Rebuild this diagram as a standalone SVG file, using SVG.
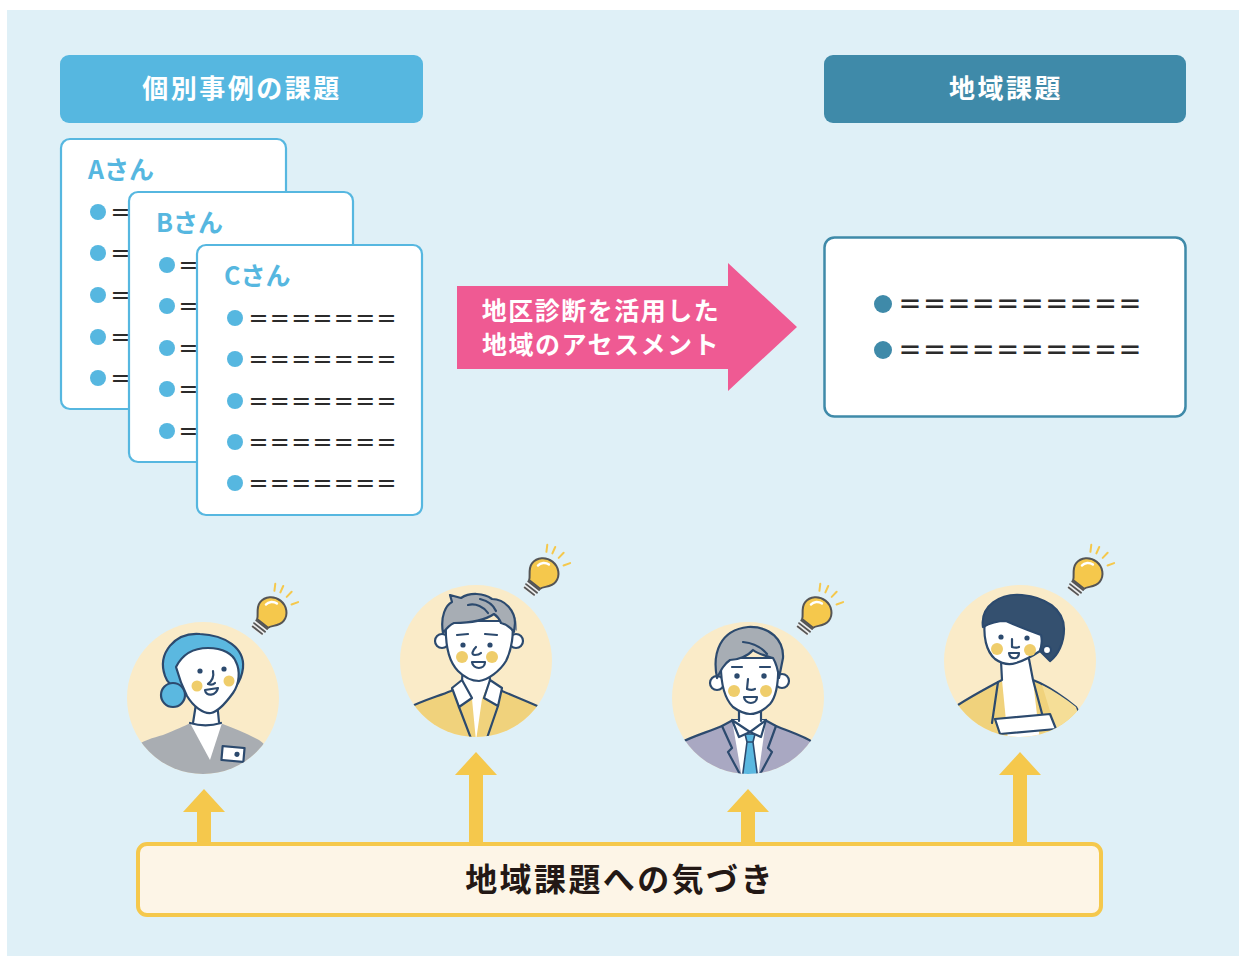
<svg xmlns="http://www.w3.org/2000/svg" xmlns:xlink="http://www.w3.org/1999/xlink" width="1239" height="956" viewBox="0 0 1239 956">
  <style>
    .jp { font-family: "Noto Sans CJK JP", "Noto Sans", sans-serif; font-weight: 700; }
    .head-txt { fill: #ffffff; font-size: 26px; letter-spacing: 2.5px; }
    .card { fill: #ffffff; stroke: #56b7e0; stroke-width: 2.2; }
    .card-title { fill: #56b7e0; font-size: 25px; }
    .dot { fill: #56b7e0; }
    .dot-dark { fill: #3f8aa9; }
    .eq { fill: #2b2b2b; font-family: "Noto Sans CJK JP", sans-serif; font-weight: 700; }
    .disc { fill: #faebc8; }
    .ol { stroke: #2c4a6e; stroke-width: 2.2; stroke-linejoin: round; stroke-linecap: round; }
    .ln { fill: none; stroke: #2c4a6e; stroke-width: 2.2; stroke-linejoin: round; stroke-linecap: round; }
    .skin { fill: #ffffff; }
    .cheek { fill: #efcd6b; }
    .eye { fill: #2c4a6e; }
    .up { fill: #f5c84c; }
  </style>
  <defs>
    <clipPath id="disc-clip">
      <circle cx="0" cy="0" r="76"/>
    </clipPath>
    <!-- light bulb drawn upright; glass centred near (0,-3) -->
    <g id="bulb">
      <g stroke="#f5c84c" stroke-width="2" stroke-linecap="round">
        <line x1="-10.8" y1="-21" x2="-14.4" y2="-27"/>
        <line x1="-5.1" y1="-23.4" x2="-6.8" y2="-30.2"/>
        <line x1="2.6" y1="-23.8" x2="3.4" y2="-30.8"/>
        <line x1="11.1" y1="-20.8" x2="14.8" y2="-26.7"/>
      </g>
      <rect x="-7" y="11" width="14" height="11" fill="#ececec"/>
      <g stroke="#555555" stroke-width="1.8" stroke-linecap="round">
        <line x1="-7" y1="13.5" x2="7" y2="13.5"/>
        <line x1="-7" y1="17" x2="7" y2="17"/>
        <line x1="-6" y1="20.5" x2="6" y2="20.5"/>
      </g>
      <path d="M -7,12 C -8,8 -15,4 -15,-3 C -15,-11 -8,-17 0,-17 C 8,-17 15,-11 15,-3 C 15,4 8,8 7,12 Z" fill="#f5c84c" stroke="#555555" stroke-width="2"/>
      <path d="M -9,-5 C -9,-9 -5,-12.5 -1,-12.5" fill="none" stroke="#ffffff" stroke-width="2.5" stroke-linecap="round"/>
    </g>
  </defs>

  <!-- backdrop -->
  <rect x="7" y="10" width="1232" height="946" fill="#dff0f7"/>

  <!-- heading: individual cases -->
  <g id="head-cases">
    <rect x="60" y="55" width="363" height="68" rx="9" fill="#56b7e0"/>
    <text class="jp head-txt" x="242" y="98" text-anchor="middle">個別事例の課題</text>
  </g>

  <!-- heading: area issues -->
  <g id="head-area">
    <rect x="824" y="55" width="362" height="68" rx="9" fill="#3f8aa9"/>
    <text class="jp head-txt" x="1006" y="98" text-anchor="middle">地域課題</text>
  </g>

  <!-- card A (lines run on under card B) -->
  <g id="card-a">
    <rect class="card" x="61" y="139" width="225" height="270" rx="9"/>
    <text class="jp card-title" x="88" y="179">Aさん</text>
    <circle class="dot" cx="98" cy="212" r="8"/>
    <circle class="dot" cx="98" cy="253" r="8"/>
    <circle class="dot" cx="98" cy="295" r="8"/>
    <circle class="dot" cx="98" cy="337" r="8"/>
    <circle class="dot" cx="98" cy="378" r="8"/>
    <g class="eq" font-size="21">
      <text x="110" y="220">＝</text>
      <text x="110" y="261">＝</text>
      <text x="110" y="303">＝</text>
      <text x="110" y="345">＝</text>
      <text x="110" y="386">＝</text>
    </g>
  </g>

  <!-- card B (lines run on under card C) -->
  <g id="card-b">
    <rect class="card" x="129" y="192" width="224" height="270" rx="9"/>
    <text class="jp card-title" x="156" y="232">Bさん</text>
    <circle class="dot" cx="167" cy="265" r="8"/>
    <circle class="dot" cx="167" cy="306" r="8"/>
    <circle class="dot" cx="167" cy="348" r="8"/>
    <circle class="dot" cx="167" cy="389" r="8"/>
    <circle class="dot" cx="167" cy="431" r="8"/>
    <g class="eq" font-size="21">
      <text x="178" y="273">＝</text>
      <text x="178" y="314">＝</text>
      <text x="178" y="356">＝</text>
      <text x="178" y="397">＝</text>
      <text x="178" y="439">＝</text>
    </g>
  </g>

  <!-- card C -->
  <g id="card-c">
    <rect class="card" x="197" y="245" width="225" height="270" rx="9"/>
    <text class="jp card-title" x="224" y="285">Cさん</text>
    <circle class="dot" cx="235" cy="318" r="8"/>
    <circle class="dot" cx="235" cy="359" r="8"/>
    <circle class="dot" cx="235" cy="401" r="8"/>
    <circle class="dot" cx="235" cy="442" r="8"/>
    <circle class="dot" cx="235" cy="483" r="8"/>
    <g class="eq" font-size="21">
      <text x="248" y="326" textLength="149">＝＝＝＝＝＝＝</text>
      <text x="248" y="367" textLength="149">＝＝＝＝＝＝＝</text>
      <text x="248" y="409" textLength="149">＝＝＝＝＝＝＝</text>
      <text x="248" y="450" textLength="149">＝＝＝＝＝＝＝</text>
      <text x="248" y="491" textLength="149">＝＝＝＝＝＝＝</text>
    </g>
  </g>

  <!-- big pink arrow with caption -->
  <g id="assessment">
    <polygon points="457,286 728,286 728,263 797,327 728,391 728,369 457,369" fill="#ef5a93"/>
    <text class="jp" x="601" y="320" font-size="25" fill="#ffffff" text-anchor="middle" letter-spacing="1.5">地区診断を活用した</text>
    <text class="jp" x="601" y="354" font-size="25" fill="#ffffff" text-anchor="middle" letter-spacing="1.5">地域のアセスメント</text>
  </g>

  <!-- summary box -->
  <g id="area-box">
    <rect x="824.5" y="237.5" width="361" height="179" rx="10" fill="#ffffff" stroke="#3f8aa9" stroke-width="2.5"/>
    <circle class="dot-dark" cx="883" cy="304" r="9"/>
    <circle class="dot-dark" cx="883" cy="350" r="9"/>
    <g class="eq" font-size="24">
      <text x="898" y="313" textLength="244">＝＝＝＝＝＝＝＝＝＝</text>
      <text x="898" y="359" textLength="244">＝＝＝＝＝＝＝＝＝＝</text>
    </g>
  </g>

  <!-- person 1: woman, blue hair -->
  <g id="person-1" transform="translate(203,698)">
    <circle class="disc" r="76"/>
    <g clip-path="url(#disc-clip)">
      <path d="M -80,90 L -70,50 C -60,42 -50,40 -40,37 C -28,32 -18,28 -13,25 L 17,25 C 30,30 45,36 56,42 C 65,48 72,60 80,90 Z" fill="#a9adb2"/>
      <path d="M -13,25 L 7,62 L 19,25 Z" fill="#ffffff"/>
      <path d="M -7,4 L -10,26 C -3,28 10,28 17,25 L 14,4 Z" class="skin"/>
      <path class="ln" d="M -7,6 L -10,25 M 14,4 L 16,24 M -13,25 C -3,28 8,28 18,25"/>
      <g transform="rotate(5 30 56)">
        <rect x="19" y="49" width="22" height="14" fill="#ffffff" class="ol"/>
        <circle cx="34" cy="56" r="2.6" class="eye"/>
      </g>
      <path class="ol" fill="#5bb8e0" d="M -38,-22 C -46,-45 -28,-66 -3,-64 C 22,-63 42,-50 40,-30 C 39,-22 36,-16 33,-12 L 25,-25 L -25,-10 C -32,-12 -36,-16 -38,-22 Z"/>
      <circle class="ol" fill="#5bb8e0" cx="-30" cy="-3" r="12"/>
      <path class="ol skin" d="M -27,-31 C -20,-45 -8,-50 5,-50 C 20,-50 30,-44 33,-36 C 37,-28 37,-15 30,-5 C 22,6 14,14 8,15 C 0,16 -10,8 -16,-2 C -20,-10 -24,-20 -27,-31 Z"/>
      <circle class="cheek" cx="-6" cy="-12" r="5.5"/>
      <circle class="cheek" cx="26" cy="-17" r="5.5"/>
      <circle class="eye" cx="-3" cy="-27" r="2.6"/>
      <circle class="eye" cx="21" cy="-29" r="2.6"/>
      <path class="ln" d="M 10,-27 C 11,-22 9,-17 5,-14 C 8,-13 11,-14 12,-15"/>
      <path class="ol" fill="#ffffff" d="M 2,-8 C 3,-1 13,-2 15,-10 Z"/>
    </g>
  </g>

  <!-- person 2: man, grey hair, yellow jacket -->
  <g id="person-2" transform="translate(476,661)">
    <circle class="disc" r="76"/>
    <g clip-path="url(#disc-clip)">
      <path class="ol" fill="#f0d27c" d="M -80,90 L -70,48 C -55,40 -40,36 -25,30 L -14,20 L 14,20 L 26,30 C 40,36 55,42 68,48 L 80,90 Z"/>
      <path fill="#ffffff" d="M -14,18 L -4,38 L 0,80 L 6,38 L 14,18 Z"/>
      <path class="ln" d="M -17,46 L -4,80 M 22,45 L 10,80"/>
      <path class="skin" d="M -13,2 L -14,20 L 14,20 L 13,2 Z"/>
      <path class="ln" d="M -13,4 L -14,20 M 13,4 L 14,20"/>
      <path class="ol" fill="#ffffff" d="M -14,19 L -24,27 L -17,46 L -4,37 Z"/>
      <path class="ol" fill="#ffffff" d="M 14,19 L 26,27 L 22,45 L 8,37 Z"/>
      <circle class="ol skin" cx="-34" cy="-20" r="7"/>
      <circle class="ol skin" cx="40" cy="-20" r="7"/>
      <path class="ol skin" d="M -30,-40 C -31,-20 -28,0 -18,10 C -10,18 -3,20 3,20 C 12,19 24,10 30,0 C 36,-12 38,-28 36,-40 Z"/>
      <path fill="#8d949c" d="M 18,-60 C 32,-58 42,-48 41,-30 L 36,-34 C 34,-44 28,-52 18,-60 Z"/>
      <path class="ol" fill="#a7adb4" d="M -33,-28 C -36,-45 -30,-56 -24,-59 L -26,-66 L -15,-63 C -6,-69 8,-68 16,-62 C 29,-62 39,-50 39,-38 L 38,-29 C 34,-34 30,-37 25,-38 C 23,-43 21,-45 18,-47 C 8,-40 -10,-38 -22,-38 C -27,-36 -30,-32 -33,-28 Z"/>
      <path class="ln" d="M -8,-56 C 0,-58 8,-54 12,-48 M 4,-62 C 12,-60 18,-55 20,-50"/>
      <path class="ln" d="M -19,-26 L -8,-27 M 9,-27 L 21,-26"/>
      <circle class="cheek" cx="-14" cy="-4" r="6"/>
      <circle class="cheek" cx="16" cy="-4" r="6"/>
      <circle class="eye" cx="-13" cy="-16" r="2.6"/>
      <circle class="eye" cx="14" cy="-16" r="2.6"/>
      <path class="ln" d="M 0,-14 C -4,-10 -5,-6 -1,-6 C 2,-6 4,-7 5,-8"/>
      <path class="ol" fill="#ffffff" d="M -4,1 C -3,9 9,9 9,1 Z"/>
    </g>
  </g>

  <!-- person 3: man in suit, blue tie -->
  <g id="person-3" transform="translate(748,698)">
    <circle class="disc" r="76"/>
    <g clip-path="url(#disc-clip)">
      <path class="ol" fill="#a9a8c2" d="M -80,90 L -68,45 C -55,38 -40,34 -26,28 L -15,22 L 17,22 L 28,28 C 42,34 56,38 66,45 L 80,90 Z"/>
      <path fill="#ffffff" d="M -16,22 L -6,80 L 10,80 L 18,22 Z"/>
      <path class="ln" d="M -26,28 L -16,50 L -20,54 L -6,80 M 28,28 L 20,50 L 24,54 L 10,80"/>
      <path class="skin" d="M -9,4 L -9,24 L 13,24 L 13,4 Z"/>
      <path class="ln" d="M -9,6 L -9,23 M 13,6 L 13,23"/>
      <path fill="#5bb8e0" stroke="#2c4a6e" stroke-width="1.6" stroke-linejoin="round" d="M -3,36 L 7,36 L 5,44 L -1,44 Z M -1,44 L 5,44 L 10,82 L -6,82 Z"/>
      <path class="ol" fill="#ffffff" d="M -16,22 L -9,39 L 2,34 Z"/>
      <path class="ol" fill="#ffffff" d="M 18,22 L 13,39 L 2,34 Z"/>
      <circle class="ol skin" cx="-31" cy="-15" r="7"/>
      <circle class="ol skin" cx="34" cy="-17" r="7"/>
      <path class="ol skin" d="M -27,-40 C -28,-15 -24,0 -15,9 C -8,14 -3,16 2,16 C 8,16 15,13 22,6 C 29,-2 31,-20 30,-40 Z"/>
      <path class="ol" fill="#a7adb4" d="M -31,-20 C -36,-45 -28,-68 0,-71 C 22,-72 36,-58 35,-40 L 31,-20 C 30,-28 28,-35 25,-40 C 18,-42 10,-44 5,-48 C 0,-42 -10,-38 -18,-38 C -24,-34 -27,-28 -31,-20 Z"/>
      <path class="ln" d="M -5,-56 C 5,-55 14,-50 19,-44"/>
      <path class="ln" d="M -16,-31 L -6,-31 M 12,-31 L 22,-31"/>
      <circle class="cheek" cx="-14" cy="-7" r="6"/>
      <circle class="cheek" cx="18" cy="-7" r="6"/>
      <circle class="eye" cx="-11" cy="-22" r="2.7"/>
      <circle class="eye" cx="16" cy="-22" r="2.7"/>
      <path class="ln" d="M 0,-19 L -1,-9 C 2,-8 5,-8 7,-9"/>
      <path class="ol" fill="#ffffff" d="M -4,-1 C -3,7 9,7 9,-1 Z"/>
    </g>
  </g>

  <!-- person 4: woman, dark short hair, yellow cardigan -->
  <g id="person-4" transform="translate(1020,661)">
    <circle class="disc" r="76"/>
    <g clip-path="url(#disc-clip)">
      <path class="ol" fill="#f0d27c" d="M -80,90 L -62,44 C -50,36 -35,28 -22,21 L -18,19 L 13,19 L 20,22 C 32,28 46,38 56,46 L 80,90 Z"/>
      <path fill="#f5de97" d="M 22,24 C 34,30 46,38 56,46 L 70,90 L 40,90 L 30,50 Z"/>
      <path fill="#ffffff" d="M -18,19 L -12,80 L 20,80 L 13,19 Z"/>
      <path class="ln" d="M -22,21 L -28,62 M 13,19 L 24,60"/>
      <path class="ol" fill="#ffffff" d="M -25,58 L 30,53 L 36,68 L -20,73 Z"/>
      <path class="skin" d="M -20,-4 L -18,20 L 13,20 L 8,-4 Z"/>
      <path class="ln" d="M -19,0 L -18,19 M 9,-2 L 13,19"/>
      <path class="ol skin" d="M -35,-40 C -37,-25 -34,-10 -25,-2 C -18,3 -10,4 -4,2 C 6,-1 14,-6 20,-10 C 24,-20 24,-30 22,-40 Z"/>
      <path class="ol" fill="#34506f" d="M -37,-34 C -40,-55 -20,-68 2,-66 C 25,-64 44,-52 44,-32 C 44,-18 38,-6 30,0 C 26,-4 22,-8 20,-10 C 22,-16 22,-22 21,-26 C 10,-30 -3,-35 -14,-40 C -22,-40 -30,-38 -37,-34 Z"/>
      <circle class="ol skin" cx="27" cy="-11" r="4"/>
      <circle class="cheek" cx="-23" cy="-12" r="6"/>
      <circle class="cheek" cx="10" cy="-11" r="6"/>
      <circle class="eye" cx="-19" cy="-24" r="2.6"/>
      <circle class="eye" cx="7" cy="-23" r="2.6"/>
      <path class="ln" d="M -8,-22 L -8,-14 C -5,-13 -3,-13 -1,-14"/>
      <path class="ol" fill="#ffffff" d="M -11,-8 C -10,-1 -1,-1 -1,-8 Z"/>
    </g>
  </g>

  <!-- ideas popping up -->
  <g id="bulbs">
    <use xlink:href="#bulb" transform="translate(270,614) rotate(38)"/>
    <use xlink:href="#bulb" transform="translate(542,575) rotate(38)"/>
    <use xlink:href="#bulb" transform="translate(815,614) rotate(38)"/>
    <use xlink:href="#bulb" transform="translate(1086,575) rotate(38)"/>
  </g>

  <!-- upward arrows from the awareness bar -->
  <g id="connectors">
    <path class="up" d="M 197,846 L 197,812 L 183,812 L 204,789 L 225,812 L 211,812 L 211,846 Z"/>
    <path class="up" d="M 469,846 L 469,775 L 455,775 L 476,752 L 497,775 L 483,775 L 483,846 Z"/>
    <path class="up" d="M 741,846 L 741,812 L 727,812 L 748,789 L 769,812 L 755,812 L 755,846 Z"/>
    <path class="up" d="M 1013,846 L 1013,775 L 999,775 L 1020,752 L 1041,775 L 1027,775 L 1027,846 Z"/>
  </g>

  <!-- awareness bar -->
  <g id="awareness">
    <rect x="138" y="844" width="963" height="71" rx="9" fill="#fdf5e7" stroke="#f5c84c" stroke-width="4"/>
    <text class="jp" x="620" y="891" font-size="32" fill="#231815" text-anchor="middle" letter-spacing="2.4">地域課題への気づき</text>
  </g>
</svg>
